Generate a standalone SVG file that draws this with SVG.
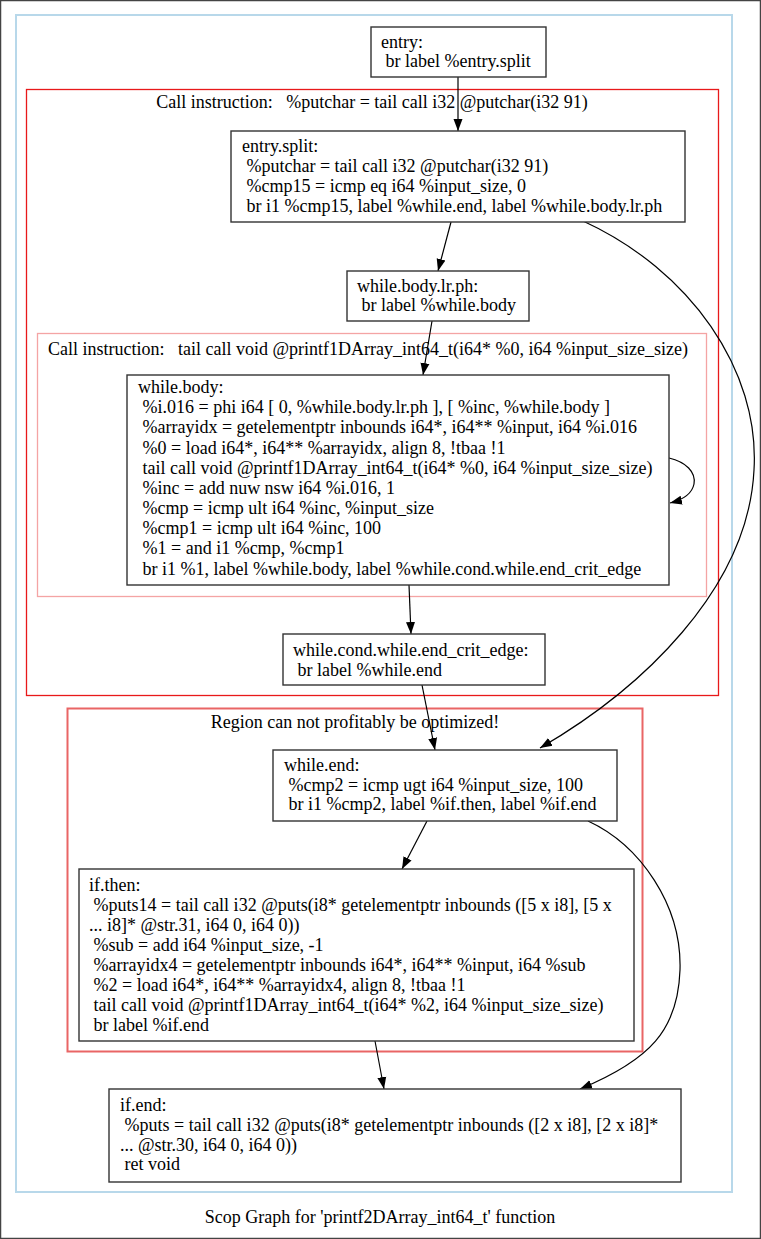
<svg xmlns="http://www.w3.org/2000/svg" width="761" height="1239" viewBox="0 0 761 1239">
  <style>
    text { font-family: "Liberation Serif", "Times New Roman", serif; font-size: 18px; fill: #000; white-space: pre; }
    .node rect { fill: #fff; stroke: #333; stroke-width: 1.4; }
    .edge { fill: none; stroke: #000; stroke-width: 1.2; }
    .mid { text-anchor: middle; }
  </style>
  <defs>
    <marker id="arrow" viewBox="0 0 12 10" refX="12" refY="5" markerWidth="12" markerHeight="10" markerUnits="userSpaceOnUse" orient="auto">
      <path d="M0,0.5 L12,5 L0,9.5 Z" fill="#000"/>
    </marker>
  </defs>

  <!-- page frame -->
  <rect x="0.5" y="0.5" width="760" height="1238" fill="#fff" stroke="#444" stroke-width="1.5"/>

  <!-- clusters -->
  <g id="clusters">
    <rect x="16" y="15" width="716" height="1177" fill="none" stroke="#b8d8ea" stroke-width="2"/>
    <rect x="26.5" y="89.5" width="692" height="606" fill="none" stroke="#e8191a" stroke-width="1.3"/>
    <text x="372" y="108" class="mid" xml:space="preserve">Call instruction:   %putchar = tail call i32 @putchar(i32 91)</text>
    <rect x="37.5" y="333.5" width="669" height="263" fill="none" stroke="#f4a4a4" stroke-width="1.3"/>
    <text x="48" y="355" xml:space="preserve">Call instruction:   tail call void @printf1DArray_int64_t(i64* %0, i64 %input_size_size)</text>
    <rect x="67.5" y="708.5" width="575" height="343" fill="none" stroke="#e96565" stroke-width="2"/>
    <text x="355" y="728" class="mid">Region can not profitably be optimized!</text>
  </g>

  <!-- connectors -->
  <g id="connectors">
    <path class="edge" d="M458,77 L458,131" marker-end="url(#arrow)"/>
    <path class="edge" d="M451,222 L438,271" marker-end="url(#arrow)"/>
    <path class="edge" d="M583,221 C690,270 760,370 754,470 C748,590 640,690 540,748" marker-end="url(#arrow)"/>
    <path class="edge" d="M432,321 L423,375" marker-end="url(#arrow)"/>
    <path class="edge" d="M669,458 C686,462 696,472 694,484 C692,494 682,500 670,503" marker-end="url(#arrow)"/>
    <path class="edge" d="M409,585 L411,634" marker-end="url(#arrow)"/>
    <path class="edge" d="M422,685 L435,750" marker-end="url(#arrow)"/>
    <path class="edge" d="M427,821 L402,869" marker-end="url(#arrow)"/>
    <path class="edge" d="M588,821 C640,845 682,905 680,970 C678,1030 650,1060 580,1089" marker-end="url(#arrow)"/>
    <path class="edge" d="M375,1041 L384,1089" marker-end="url(#arrow)"/>
  </g>

  <!-- nodes -->
  <g id="entry" class="node">
    <rect x="371" y="27" width="175" height="50"/>
    <text x="381" y="48">entry:</text>
    <text x="381" y="67" xml:space="preserve"> br label %entry.split</text>
  </g>

  <g id="entry.split" class="node">
    <rect x="231" y="131" width="454" height="91"/>
    <text x="242" y="152">entry.split:</text>
    <text x="242" y="172" xml:space="preserve"> %putchar = tail call i32 @putchar(i32 91)</text>
    <text x="242" y="192" xml:space="preserve"> %cmp15 = icmp eq i64 %input_size, 0</text>
    <text x="242" y="212" xml:space="preserve"> br i1 %cmp15, label %while.end, label %while.body.lr.ph</text>
  </g>

  <g id="while.body.lr.ph" class="node">
    <rect x="347" y="271" width="182" height="50"/>
    <text x="357" y="292">while.body.lr.ph:</text>
    <text x="357" y="311" xml:space="preserve"> br label %while.body</text>
  </g>

  <g id="while.body" class="node">
    <rect x="127" y="375" width="542" height="210"/>
    <text x="138" y="393">while.body:</text>
    <text x="138" y="413" xml:space="preserve"> %i.016 = phi i64 [ 0, %while.body.lr.ph ], [ %inc, %while.body ]</text>
    <text x="138" y="433" xml:space="preserve"> %arrayidx = getelementptr inbounds i64*, i64** %input, i64 %i.016</text>
    <text x="138" y="454" xml:space="preserve"> %0 = load i64*, i64** %arrayidx, align 8, !tbaa !1</text>
    <text x="138" y="474" xml:space="preserve"> tail call void @printf1DArray_int64_t(i64* %0, i64 %input_size_size)</text>
    <text x="138" y="494" xml:space="preserve"> %inc = add nuw nsw i64 %i.016, 1</text>
    <text x="138" y="514" xml:space="preserve"> %cmp = icmp ult i64 %inc, %input_size</text>
    <text x="138" y="534" xml:space="preserve"> %cmp1 = icmp ult i64 %inc, 100</text>
    <text x="138" y="554" xml:space="preserve"> %1 = and i1 %cmp, %cmp1</text>
    <text x="138" y="575" xml:space="preserve"> br i1 %1, label %while.body, label %while.cond.while.end_crit_edge</text>
  </g>

  <g id="while.cond.while.end_crit_edge" class="node">
    <rect x="283" y="634" width="262" height="51"/>
    <text x="293" y="656">while.cond.while.end_crit_edge:</text>
    <text x="293" y="676" xml:space="preserve"> br label %while.end</text>
  </g>

  <g id="while.end" class="node">
    <rect x="273" y="750" width="344" height="71"/>
    <text x="284" y="771">while.end:</text>
    <text x="284" y="791" xml:space="preserve"> %cmp2 = icmp ugt i64 %input_size, 100</text>
    <text x="284" y="810" xml:space="preserve"> br i1 %cmp2, label %if.then, label %if.end</text>
  </g>

  <g id="if.then" class="node">
    <rect x="79" y="869" width="555" height="172"/>
    <text x="89" y="891">if.then:</text>
    <text x="89" y="911" xml:space="preserve"> %puts14 = tail call i32 @puts(i8* getelementptr inbounds ([5 x i8], [5 x</text>
    <text x="89" y="931" xml:space="preserve">... i8]* @str.31, i64 0, i64 0))</text>
    <text x="89" y="951" xml:space="preserve"> %sub = add i64 %input_size, -1</text>
    <text x="89" y="971" xml:space="preserve"> %arrayidx4 = getelementptr inbounds i64*, i64** %input, i64 %sub</text>
    <text x="89" y="991" xml:space="preserve"> %2 = load i64*, i64** %arrayidx4, align 8, !tbaa !1</text>
    <text x="89" y="1011" xml:space="preserve"> tail call void @printf1DArray_int64_t(i64* %2, i64 %input_size_size)</text>
    <text x="89" y="1031" xml:space="preserve"> br label %if.end</text>
  </g>

  <g id="if.end" class="node">
    <rect x="109" y="1089" width="572" height="93"/>
    <text x="120" y="1111">if.end:</text>
    <text x="120" y="1131" xml:space="preserve"> %puts = tail call i32 @puts(i8* getelementptr inbounds ([2 x i8], [2 x i8]*</text>
    <text x="120" y="1151" xml:space="preserve">... @str.30, i64 0, i64 0))</text>
    <text x="120" y="1170" xml:space="preserve"> ret void</text>
  </g>

  <!-- graph title -->
  <text x="380" y="1223" class="mid" xml:space="preserve">Scop Graph for 'printf2DArray_int64_t' function</text>
</svg>
